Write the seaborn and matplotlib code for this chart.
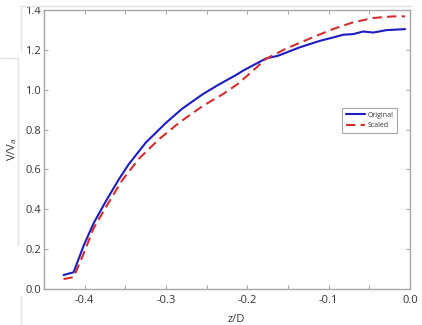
import numpy as np
import pandas as pd
import matplotlib
matplotlib.use("Agg")
import matplotlib.pyplot as plt
import seaborn as sns
from matplotlib.lines import Line2D

z_orig = [-0.426, -0.4136, -0.401, -0.389, -0.374, -0.358, -0.346, -0.325, -0.300,
          -0.280, -0.255, -0.2346, -0.212, -0.206, -0.177, -0.1625, -0.136, -0.111,
          -0.0947, -0.082, -0.070, -0.0576, -0.045, -0.0288, -0.006]
v_orig = [0.070, 0.084, 0.22, 0.33, 0.44, 0.55, 0.625, 0.734, 0.834,
          0.905, 0.977, 1.027, 1.078, 1.094, 1.157, 1.170, 1.212, 1.245,
          1.262, 1.276, 1.279, 1.292, 1.287, 1.299, 1.304]

z_scaled = [-0.426, -0.4136, -0.401, -0.389, -0.374, -0.354, -0.333, -0.309, -0.284,
            -0.255, -0.230, -0.212, -0.196, -0.177, -0.152, -0.123, -0.095, -0.070,
            -0.045, -0.0206, -0.006]
v_scaled = [0.05, 0.059, 0.18, 0.305, 0.41, 0.545, 0.655, 0.75, 0.834,
            0.918, 0.978, 1.028, 1.085, 1.155, 1.207, 1.257, 1.304, 1.338,
            1.36, 1.368, 1.368]

x_ticks = [-0.4, -0.3, -0.2, -0.1, 0.0]
y_ticks = [0.0, 0.2, 0.4, 0.6, 0.8, 1.0, 1.2, 1.4]

sns.set_style("ticks")
plt.rcParams['font.family'] = ['Open Sans', 'DejaVu Sans']

df_o = pd.DataFrame({"z": z_orig, "v": v_orig})
df_s = pd.DataFrame({"z": z_scaled, "v": v_scaled})

fig = plt.figure(figsize=(4.22, 3.25), dpi=100)
ax = fig.add_axes([44 / 422, 1 - 289 / 325, 366 / 422, 279 / 325])

sns.lineplot(data=df_o, x="z", y="v", ax=ax, color="#1c1cc0", lw=1.5,
             label="Original", sort=False)
sns.lineplot(data=df_s, x="z", y="v", ax=ax, color="#d03030", lw=1.5,
             linestyle=(0, (4.5, 2.5)), label="Scaled", sort=False)

ax.set_xlim(-0.45, 0.0)
ax.set_ylim(0.0, 1.4)
ax.set_xticks(x_ticks)
ax.set_xticklabels([f"{t:.1f}" for t in x_ticks])
ax.set_xticks(np.arange(-0.45, 0.001, 0.05), minor=True)
ax.set_yticks(y_ticks)
ax.set_yticklabels([f"{t:.1f}" for t in y_ticks])

grey = "#a8a8a8"
for s in ax.spines.values():
    s.set_color(grey)
    s.set_linewidth(1.0)
ax.tick_params(which="both", direction="in", length=3, width=0.8, color=grey,
               top=True, right=True, labelsize=8, labelcolor="#333333")
ax.tick_params(axis="x", which="major", pad=4)
ax.tick_params(axis="y", which="major", pad=2)

ax.set_xlabel("z/D", fontsize=8, color="#333333")
ax.set_ylabel("V/V$_\\mathregular{a}$", fontsize=8, color="#333333")
ax.xaxis.set_label_coords(0.525, -0.09)
ax.yaxis.set_label_coords(-0.068, 0.5)

leg = ax.legend(loc="upper right", bbox_to_anchor=(0.975, 0.66), fontsize=5,
                frameon=True, fancybox=False, handlelength=2.8,
                borderpad=0.5, labelspacing=0.5, handletextpad=0.4)
leg.get_frame().set_edgecolor("#909090")
leg.get_frame().set_linewidth(0.8)
for t in leg.get_texts():
    t.set_color("#333333")

# faint screenshot frame lines
light = "#e2e2e2"
fig.add_artist(Line2D([21 / 422, 411 / 422], [1 - 6 / 325, 1 - 6 / 325],
                      transform=fig.transFigure, color=light, lw=1))
fig.add_artist(Line2D([21 / 422, 21 / 422], [1 - 6 / 325, 1 - 50 / 325],
                      transform=fig.transFigure, color=light, lw=1))
fig.add_artist(Line2D([21 / 422, 21 / 422], [1 - 296 / 325, 0],
                      transform=fig.transFigure, color=light, lw=1))
fig.add_artist(Line2D([0, 18 / 422], [1 - 58 / 325, 1 - 58 / 325],
                      transform=fig.transFigure, color=light, lw=1))
fig.add_artist(Line2D([18 / 422, 18 / 422], [1 - 58 / 325, 1 - 245 / 325],
                      transform=fig.transFigure, color=light, lw=1))

fig.savefig("out.png", dpi=100)
